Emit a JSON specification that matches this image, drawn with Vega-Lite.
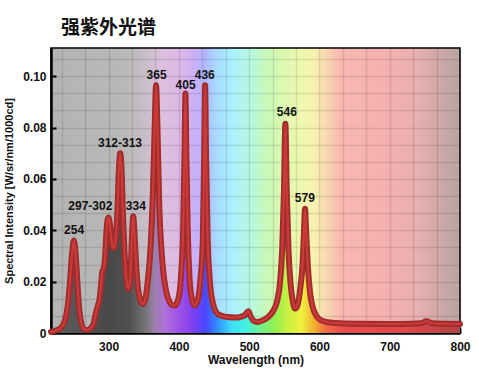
{
  "$schema": "https://vega.github.io/schema/vega-lite/v6.json",
  "width": 409,
  "height": 285,
  "padding": {"left": 3, "top": 19, "right": 10, "bottom": 5},
  "background": "white",
  "title": {
    "text": "强紫外光谱",
    "anchor": "start",
    "frame": "group",
    "dx": 10,
    "offset": 10,
    "font": "Noto Sans CJK SC",
    "fontSize": 19,
    "fontWeight": "bold",
    "color": "#111111"
  },
  "view": {
    "stroke": "black",
    "strokeWidth": 1.5,
    "fill": {
      "gradient": "linear", "x1": 0, "x2": 1, "y1": 0, "y2": 0,
      "stops": [
        {"offset": 0, "color": "#b4b4b4"},
        {"offset": 0.175, "color": "#b8b8b8"},
        {"offset": 0.227, "color": "#c6bec6"},
        {"offset": 0.27, "color": "#dcc0dc"},
        {"offset": 0.318, "color": "#dcb8e8"},
        {"offset": 0.354, "color": "#c8b0f8"},
        {"offset": 0.378, "color": "#b0b8ff"},
        {"offset": 0.402, "color": "#a8d8ff"},
        {"offset": 0.44, "color": "#a8f0ff"},
        {"offset": 0.49, "color": "#b8f8e0"},
        {"offset": 0.526, "color": "#c8f8b8"},
        {"offset": 0.562, "color": "#d8f8b0"},
        {"offset": 0.612, "color": "#f0f8b0"},
        {"offset": 0.648, "color": "#f8f0b0"},
        {"offset": 0.677, "color": "#f8d4b0"},
        {"offset": 0.708, "color": "#f8b8b0"},
        {"offset": 0.828, "color": "#f4b0b0"},
        {"offset": 0.897, "color": "#e8b0b0"},
        {"offset": 0.948, "color": "#d0a8a8"},
        {"offset": 1, "color": "#b8a4a4"}
      ]
    }
  },
  "config": {
    "axis": {
      "labelFont": "Liberation Sans",
      "labelFontSize": 12,
      "labelFontWeight": "bold",
      "labelColor": "#111111",
      "titleFont": "Liberation Sans",
      "titleFontWeight": "bold",
      "titleColor": "#111111",
      "domainColor": "black",
      "domainWidth": 2.5,
      "gridColor": "black",
      "gridOpacity": 0.1,
      "gridWidth": 1.5,
      "tickWidth": 2,
      "tickSize": -5,
      "labelOverlap": false,
      "zindex": 1
    }
  },
  "datasets": {
    "spectrum": [
      {"nm": 218, "v": 0.0004}, {"nm": 225, "v": 0.001}, {"nm": 232, "v": 0.002},
      {"nm": 238, "v": 0.005}, {"nm": 242, "v": 0.011}, {"nm": 245, "v": 0.02},
      {"nm": 248, "v": 0.031}, {"nm": 250.5, "v": 0.036}, {"nm": 253, "v": 0.031},
      {"nm": 255.5, "v": 0.02}, {"nm": 258, "v": 0.01}, {"nm": 261, "v": 0.004},
      {"nm": 265, "v": 0.0015}, {"nm": 270, "v": 0.0012}, {"nm": 275, "v": 0.002},
      {"nm": 279, "v": 0.004}, {"nm": 282, "v": 0.008}, {"nm": 285, "v": 0.011},
      {"nm": 287, "v": 0.013}, {"nm": 289, "v": 0.018}, {"nm": 291, "v": 0.024},
      {"nm": 293, "v": 0.025}, {"nm": 295, "v": 0.03}, {"nm": 297, "v": 0.04},
      {"nm": 299.5, "v": 0.045}, {"nm": 302, "v": 0.042}, {"nm": 304, "v": 0.036},
      {"nm": 307, "v": 0.033}, {"nm": 310, "v": 0.036}, {"nm": 312.5, "v": 0.048},
      {"nm": 314.5, "v": 0.063}, {"nm": 316.5, "v": 0.07}, {"nm": 318.5, "v": 0.063},
      {"nm": 320.5, "v": 0.045}, {"nm": 322.5, "v": 0.032}, {"nm": 325, "v": 0.022},
      {"nm": 328, "v": 0.017}, {"nm": 331, "v": 0.022}, {"nm": 333, "v": 0.036},
      {"nm": 335, "v": 0.0455}, {"nm": 337, "v": 0.038}, {"nm": 339.5, "v": 0.025},
      {"nm": 342, "v": 0.017}, {"nm": 345, "v": 0.013}, {"nm": 348.5, "v": 0.0113},
      {"nm": 352, "v": 0.013}, {"nm": 356, "v": 0.021}, {"nm": 360, "v": 0.035},
      {"nm": 363, "v": 0.055}, {"nm": 365.5, "v": 0.08}, {"nm": 367.5, "v": 0.0965},
      {"nm": 369.5, "v": 0.08}, {"nm": 372, "v": 0.05}, {"nm": 375, "v": 0.033},
      {"nm": 379, "v": 0.021}, {"nm": 384, "v": 0.014}, {"nm": 390, "v": 0.011},
      {"nm": 394, "v": 0.0107}, {"nm": 399, "v": 0.013}, {"nm": 403, "v": 0.022},
      {"nm": 406, "v": 0.04}, {"nm": 408, "v": 0.07}, {"nm": 409.3, "v": 0.0933},
      {"nm": 410.6, "v": 0.07}, {"nm": 412.6, "v": 0.04}, {"nm": 415, "v": 0.022},
      {"nm": 418, "v": 0.014}, {"nm": 422, "v": 0.0107}, {"nm": 427, "v": 0.013},
      {"nm": 431, "v": 0.022}, {"nm": 434, "v": 0.036}, {"nm": 436, "v": 0.07},
      {"nm": 437.3, "v": 0.0965}, {"nm": 438.6, "v": 0.07}, {"nm": 441, "v": 0.036},
      {"nm": 443.5, "v": 0.022}, {"nm": 446, "v": 0.015}, {"nm": 450, "v": 0.01},
      {"nm": 455, "v": 0.0075}, {"nm": 462, "v": 0.0066}, {"nm": 470, "v": 0.0062},
      {"nm": 480, "v": 0.006}, {"nm": 488, "v": 0.0063}, {"nm": 494, "v": 0.007},
      {"nm": 499, "v": 0.0085}, {"nm": 502, "v": 0.0065}, {"nm": 506, "v": 0.0048},
      {"nm": 512, "v": 0.0043}, {"nm": 520, "v": 0.005}, {"nm": 528, "v": 0.0065},
      {"nm": 535, "v": 0.009}, {"nm": 540, "v": 0.0127}, {"nm": 544, "v": 0.02},
      {"nm": 547, "v": 0.033}, {"nm": 549.5, "v": 0.055}, {"nm": 551.5, "v": 0.0815},
      {"nm": 553.5, "v": 0.055}, {"nm": 556, "v": 0.032}, {"nm": 559, "v": 0.019},
      {"nm": 562, "v": 0.0125}, {"nm": 565.5, "v": 0.0095}, {"nm": 569, "v": 0.011},
      {"nm": 573, "v": 0.018}, {"nm": 576, "v": 0.027}, {"nm": 578, "v": 0.04},
      {"nm": 579.5, "v": 0.0484}, {"nm": 581, "v": 0.04}, {"nm": 583.5, "v": 0.026},
      {"nm": 587, "v": 0.015}, {"nm": 590.5, "v": 0.01}, {"nm": 596, "v": 0.0065},
      {"nm": 602, "v": 0.005}, {"nm": 612, "v": 0.0042}, {"nm": 630, "v": 0.0038},
      {"nm": 660, "v": 0.0036}, {"nm": 700, "v": 0.0035}, {"nm": 730, "v": 0.0036},
      {"nm": 745, "v": 0.0038}, {"nm": 752, "v": 0.0046}, {"nm": 760, "v": 0.0038},
      {"nm": 780, "v": 0.0036}, {"nm": 800, "v": 0.0035}
    ],
    "labels": [
      {"label": "254", "nm": 250.8, "v": 0.0387},
      {"label": "297-302", "nm": 274, "v": 0.0478},
      {"label": "312-313", "nm": 316.2, "v": 0.0725},
      {"label": "334", "nm": 338.7, "v": 0.048},
      {"label": "365", "nm": 368.3, "v": 0.0991},
      {"label": "405", "nm": 409.5, "v": 0.0952},
      {"label": "436", "nm": 436.8, "v": 0.0991},
      {"label": "546", "nm": 553.6, "v": 0.0845},
      {"label": "579", "nm": 579.2, "v": 0.051}
    ]
  },
  "encoding": {
    "x": {
      "field": "nm",
      "type": "quantitative",
      "scale": {"domain": [218, 800], "nice": false, "zero": false},
      "axis": {
        "title": "Wavelength (nm)",
        "titleFontSize": 12,
        "titlePadding": 2,
        "labelPadding": 13,
        "labelFlush": false,
        "values": [233.3333, 266.6667, 300, 333.3333, 366.6667, 400, 433.3333, 466.6667, 500, 533.3333, 566.6667, 600, 633.3333, 666.6667, 700, 733.3333, 766.6667, 800],
        "labelExpr": "abs(datum.value/100 - round(datum.value/100)) < 0.01 ? format(datum.value, 'd') : ''",
        "tickColor": {"condition": {"test": "abs(datum.value/100 - round(datum.value/100)) < 0.01", "value": "black"}, "value": "transparent"}
      }
    },
    "y": {
      "field": "v",
      "type": "quantitative",
      "scale": {"domain": [0, 0.111], "nice": false},
      "axis": {
        "title": "Spectral Intensity [W/sr/nm/1000cd]",
        "titleFontSize": 11,
        "titlePadding": 8,
        "labelPadding": 10,
        "values": [0, 0.006667, 0.013333, 0.02, 0.026667, 0.033333, 0.04, 0.046667, 0.053333, 0.06, 0.066667, 0.073333, 0.08, 0.086667, 0.093333, 0.1, 0.106667],
        "labelExpr": "abs(datum.value*50 - round(datum.value*50)) < 0.01 ? (datum.value == 0 ? '0' : format(datum.value, '.2f')) : ''",
        "tickColor": {"condition": {"test": "abs(datum.value*50 - round(datum.value*50)) < 0.01", "value": "black"}, "value": "transparent"}
      }
    }
  },
  "layer": [
    {
      "data": {"name": "spectrum"},
      "mark": {
        "type": "area",
        "interpolate": "monotone",
        "fill": {
          "gradient": "linear", "x1": 0, "x2": 1, "y1": 0, "y2": 0,
          "stops": [
            {"offset": 0, "color": "#606060"},
            {"offset": 0.141, "color": "#484848"},
            {"offset": 0.192, "color": "#505050"},
            {"offset": 0.227, "color": "#707070"},
            {"offset": 0.253, "color": "#9a80a8"},
            {"offset": 0.278, "color": "#b070d8"},
            {"offset": 0.313, "color": "#a050e8"},
            {"offset": 0.347, "color": "#8040f0"},
            {"offset": 0.378, "color": "#4848ff"},
            {"offset": 0.407, "color": "#3090ff"},
            {"offset": 0.442, "color": "#40e0f8"},
            {"offset": 0.476, "color": "#40f0e0"},
            {"offset": 0.51, "color": "#70f090"},
            {"offset": 0.545, "color": "#90f050"},
            {"offset": 0.579, "color": "#c8f040"},
            {"offset": 0.613, "color": "#f0f040"},
            {"offset": 0.643, "color": "#f0b030"},
            {"offset": 0.67, "color": "#f07040"},
            {"offset": 0.708, "color": "#e85050"},
            {"offset": 0.863, "color": "#e04848"},
            {"offset": 1, "color": "#b04444"}
          ]
        }
      }
    },
    {
      "data": {"name": "spectrum"},
      "mark": {"type": "line", "interpolate": "monotone", "color": "#a02c2c", "strokeWidth": 6, "strokeJoin": "round", "strokeCap": "round"}
    },
    {
      "data": {"name": "spectrum"},
      "mark": {"type": "line", "interpolate": "monotone", "color": "#cc3a3a", "strokeWidth": 2.2, "strokeJoin": "round", "strokeCap": "round"}
    },
    {
      "data": {"name": "labels"},
      "mark": {"type": "text", "font": "Liberation Sans", "fontSize": 12, "fontWeight": "bold", "color": "#111111", "baseline": "alphabetic", "align": "center"},
      "encoding": {
        "text": {"field": "label", "type": "nominal"}
      }
    }
  ]
}
